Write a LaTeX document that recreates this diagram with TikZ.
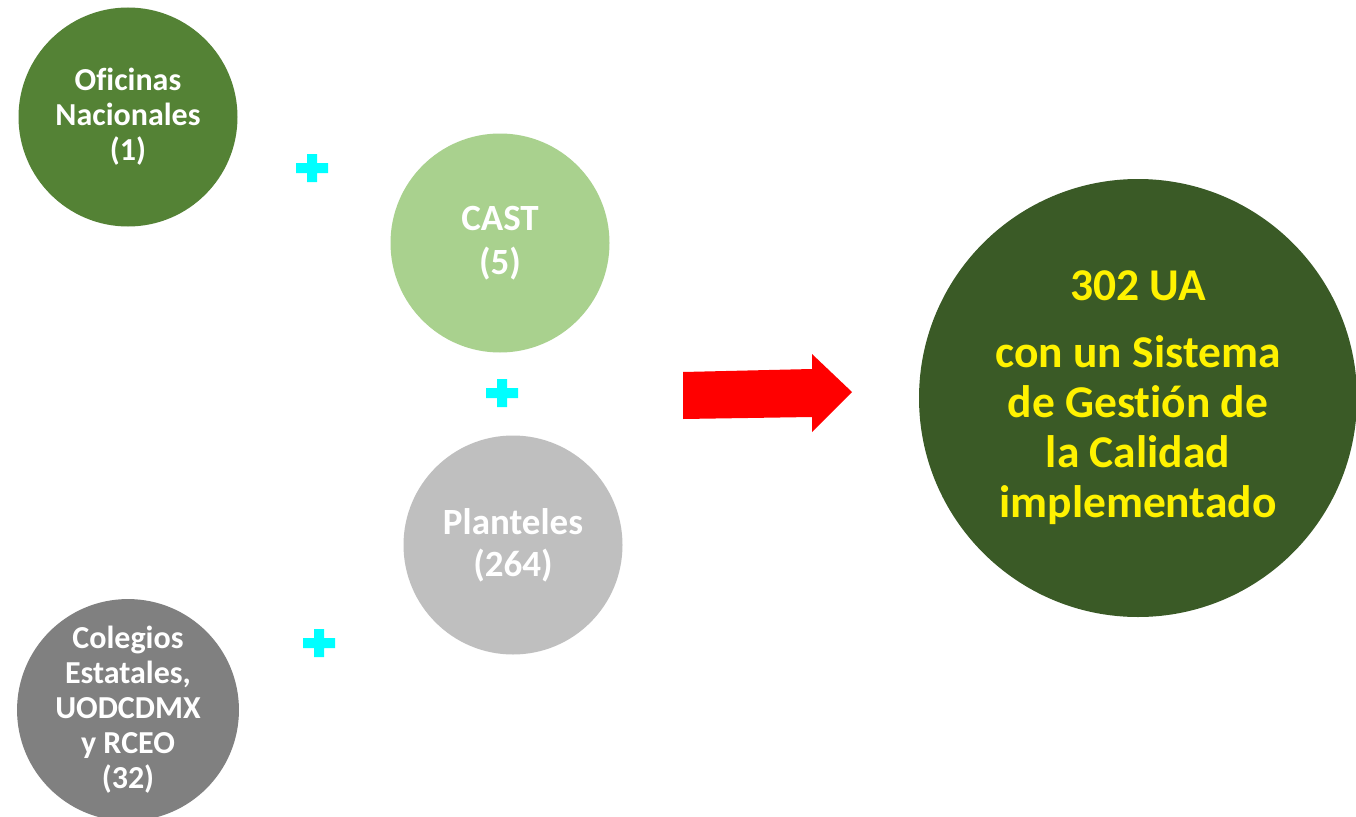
\documentclass[tikz,border=0pt]{standalone}
\usepackage{fontspec}
\setmainfont{Carlito}[Ligatures=NoCommon]
\usepackage{xcolor}
\usetikzlibrary{positioning}
\definecolor{ofgreen}{HTML}{548235}
\definecolor{castgreen}{HTML}{A9D18E}
\definecolor{plgray}{HTML}{BFBFBF}
\definecolor{colgray}{HTML}{808080}
\definecolor{bigreen}{HTML}{3A5A26}
\definecolor{plusc}{HTML}{00FFFF}

\begin{document}
\begin{tikzpicture}[x=1pt,y=-1pt,
   unit/.style={circle,minimum size=219pt,inner sep=0pt,align=center,
     text=white,font=\bfseries\fontsize{32}{35}\selectfont},
   total/.style={circle,minimum size=438pt,inner sep=0pt,align=center,
     fill=bigreen,text=yellow,font=\bfseries\fontsize{45.5}{50}\selectfont}]
   \useasboundingbox[fill=white] (0,0) rectangle (1356,816);
   \node[unit,fill=ofgreen] (ofi) at (128,117) {Oficinas\\Nacionales\\(1)};
   \node[unit,fill=castgreen,font=\bfseries\fontsize{37}{44}\selectfont] (cast) at (500,243) {CAST\\(5)};
   \node[unit,fill=plgray,font=\bfseries\fontsize{37}{42}\selectfont] (plan) at (513,545) {Planteles\\(264)};
   \node[unit,fill=colgray] (col) at (128,710) {Colegios\\Estatales,\\UODCDMX\\y RCEO\\(32)};
   \node[total] (ua) at (1138,398) {302 UA\\[17pt]con un Sistema\\de Gestión de\\la Calidad\\implementado};
   % plus signs
   \foreach \px/\py in {312/168, 502/393, 319/643}
      \fill[plusc] (\px-16,\py-5) rectangle (\px+16,\py+5)
                   (\px-5,\py-14) rectangle (\px+5,\py+14);
   % red arrow
   \fill[red] (683,372) -- (812,369) -- (812,354) -- (852,392)
              -- (812,432) -- (812,417) -- (683,419) -- cycle;
\end{tikzpicture}
\end{document}
